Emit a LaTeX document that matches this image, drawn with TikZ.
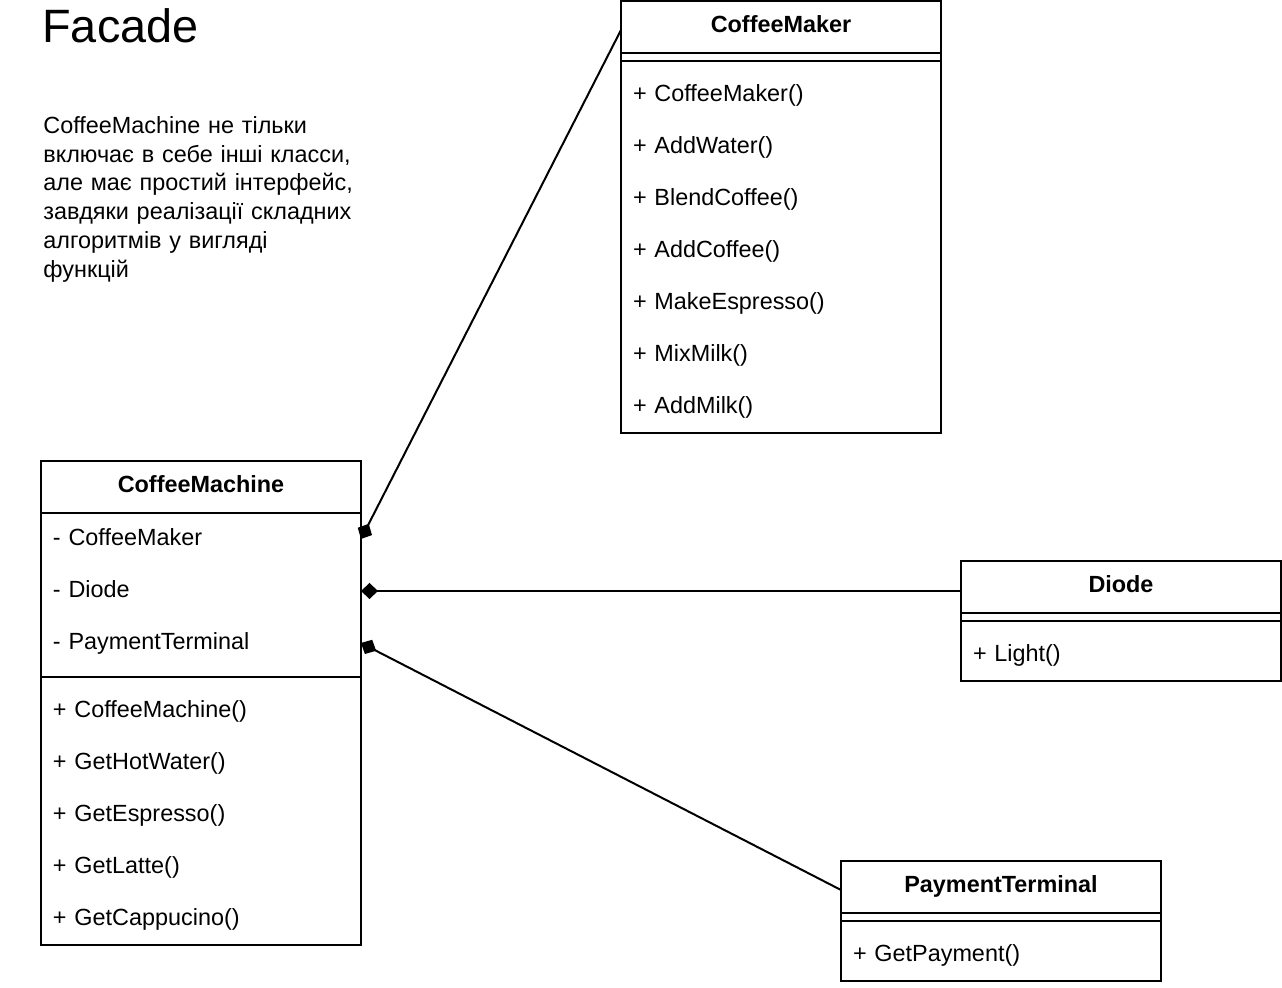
\documentclass[tikz,border=0pt]{standalone}
\usepackage{fontspec}
\setmainfont{Liberation Sans}
\usetikzlibrary{positioning, arrows.meta}

\tikzset{
	classhead/.style={draw, line width=1pt, anchor=north west, minimum width=160pt, minimum height=26pt, inner sep=0pt, outer sep=0pt, text height=8.75pt, text depth=3.25pt, font=\fontsize{11.7}{14.4}\selectfont\bfseries},
	member/.style={minimum width=160pt, minimum height=26pt, text width=148pt, inner xsep=6pt, inner ysep=0pt, outer sep=0pt, align=left, text height=9.25pt, text depth=2.75pt, font=\fontsize{11.7}{14.4}\selectfont},
	frame/.style={line width=1pt},
	compose/.style={line width=1pt, {Diamond[length=8.5pt, width=8pt]}-}
}

\begin{document}
\begin{tikzpicture}[x=0.5pt, y=-0.5pt]
	\useasboundingbox (0,0) rectangle (1282,988);
	\node[anchor=base west, inner sep=0pt, font=\fontsize{23.4}{28}\selectfont] (title) at (42,43) {Facade};
	\node[anchor=base west, inner sep=0pt, text width=180pt, align=left, font=\fontsize{11.7}{14.4}\selectfont] (note) at (43,133.3) {CoffeeMachine не тільки\\включає в себе інші класси,\\але має простий інтерфейс,\\завдяки реалізації складних\\алгоритмів у вигляді\\функцій};
	% CoffeeMaker
	\node[classhead] (maker) at (621,1) {CoffeeMaker};
	\node[member, below=8pt of maker] (maker1) {+ CoffeeMaker()};
	\node[member, below=0pt of maker1] (maker2) {+ AddWater()};
	\node[member, below=0pt of maker2] (maker3) {+ BlendCoffee()};
	\node[member, below=0pt of maker3] (maker4) {+ AddCoffee()};
	\node[member, below=0pt of maker4] (maker5) {+ MakeEspresso()};
	\node[member, below=0pt of maker5] (maker6) {+ MixMilk()};
	\node[member, below=0pt of maker6] (maker7) {+ AddMilk()};
	\draw[frame] (maker.north west) rectangle (maker7.south east);
	\draw[frame] ([yshift=-4pt]maker.south west) -- ([yshift=-4pt]maker.south east);
	% CoffeeMachine
	\node[classhead] (machine) at (41,461) {CoffeeMachine};
	\node[member, below=0pt of machine] (mmaker) {- CoffeeMaker};
	\node[member, below=0pt of mmaker] (mdiode) {- Diode};
	\node[member, below=0pt of mdiode] (mterminal) {- PaymentTerminal};
	\node[member, below=8pt of mterminal] (machine1) {+ CoffeeMachine()};
	\node[member, below=0pt of machine1] (machine2) {+ GetHotWater()};
	\node[member, below=0pt of machine2] (machine3) {+ GetEspresso()};
	\node[member, below=0pt of machine3] (machine4) {+ GetLatte()};
	\node[member, below=0pt of machine4] (machine5) {+ GetCappucino()};
	\draw[frame] (machine.north west) rectangle (machine5.south east);
	\draw[frame] ([yshift=-4pt]mterminal.south west) -- ([yshift=-4pt]mterminal.south east);
	% Diode
	\node[classhead] (diode) at (961,561) {Diode};
	\node[member, below=8pt of diode] (diode1) {+ Light()};
	\draw[frame] (diode.north west) rectangle (diode1.south east);
	\draw[frame] ([yshift=-4pt]diode.south west) -- ([yshift=-4pt]diode.south east);
	% PaymentTerminal
	\node[classhead] (terminal) at (841,861) {PaymentTerminal};
	\node[member, below=8pt of terminal] (terminal1) {+ GetPayment()};
	\draw[frame] (terminal.north west) rectangle (terminal1.south east);
	\draw[frame] ([yshift=-4pt]terminal.south west) -- ([yshift=-4pt]terminal.south east);
	% composition
	\draw[compose] (mmaker.east) -- ([yshift=-1.5pt]maker.west);
	\draw[compose] (mdiode.east) -- (mdiode.east -| diode.west);
	\draw[compose] (mterminal.east) -- ([yshift=-1.5pt]terminal.west);
\end{tikzpicture}
\end{document}
